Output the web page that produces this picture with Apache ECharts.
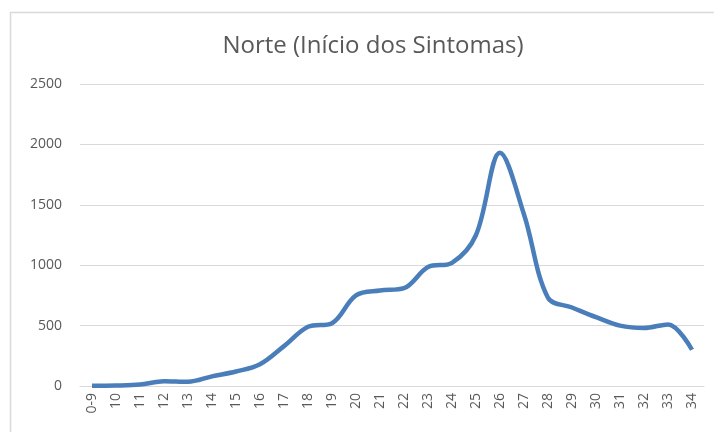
<html>
    <head>
        <meta charset="utf-8">
        <script src="https://cdn.jsdelivr.net/npm/echarts@6/dist/echarts.min.js"></script>
    </head>
    <body style="margin:0">
        <div id="main" style="width:714px;height:432px;"></div>
        <script>
            var weeks = ['0-9', '10', '11', '12', '13', '14', '15', '16', '17', '18', '19', '20', '21',
                '22', '23', '24', '25', '26', '27', '28', '29', '30', '31', '32', '33', '34'];
            var cases = [2, 4, 12, 40, 35, 80, 120, 180, 330, 490, 520, 750, 790,
                810, 985, 1020, 1250, 1930, 1420, 730, 650, 570, 500, 480, 510, 300];
            var yTicks = [0, 500, 1000, 1500, 2000, 2500];

            var chart = echarts.init(document.getElementById('main'));
            chart.setOption({
                animation: false,
                backgroundColor: '#fff',
                graphic: [{
                    type: 'rect',
                    shape: { x: 10.5, y: 12.5, width: 720, height: 440 },
                    style: { fill: 'none', stroke: '#d9d9d9', lineWidth: 1.5 }
                }],
                title: {
                    text: 'Norte (Início dos Sintomas)',
                    left: 368,
                    textAlign: 'center',
                    top: 29,
                    textStyle: {
                        fontFamily: 'Open Sans',
                        fontSize: 24,
                        fontWeight: 'normal',
                        color: '#595959'
                    }
                },
                grid: { left: 80, right: 10, top: 84, bottom: 46 },
                xAxis: {
                    type: 'category',
                    data: weeks,
                    axisLine: { lineStyle: { color: '#d9d9d9' } },
                    axisTick: { show: false },
                    axisLabel: {
                        rotate: 90,
                        interval: 0,
                        color: '#595959',
                        fontFamily: 'Open Sans',
                        fontSize: 14,
                        margin: 7
                    }
                },
                yAxis: {
                    type: 'value',
                    min: yTicks[0],
                    max: yTicks[yTicks.length - 1],
                    interval: 500,
                    axisLine: { show: false },
                    axisTick: { show: false },
                    splitLine: { lineStyle: { color: '#d9d9d9' } },
                    axisLabel: {
                        color: '#595959',
                        fontFamily: 'Open Sans',
                        fontSize: 14,
                        margin: 18,
                        formatter: function (v) { return String(v); }
                    }
                },
                series: [{
                    type: 'line',
                    data: cases,
                    smooth: 0.35,
                    symbol: 'none',
                    lineStyle: { color: '#4a7ebb', width: 4.5 }
                }]
            });
        </script>
    </body>
</html>
